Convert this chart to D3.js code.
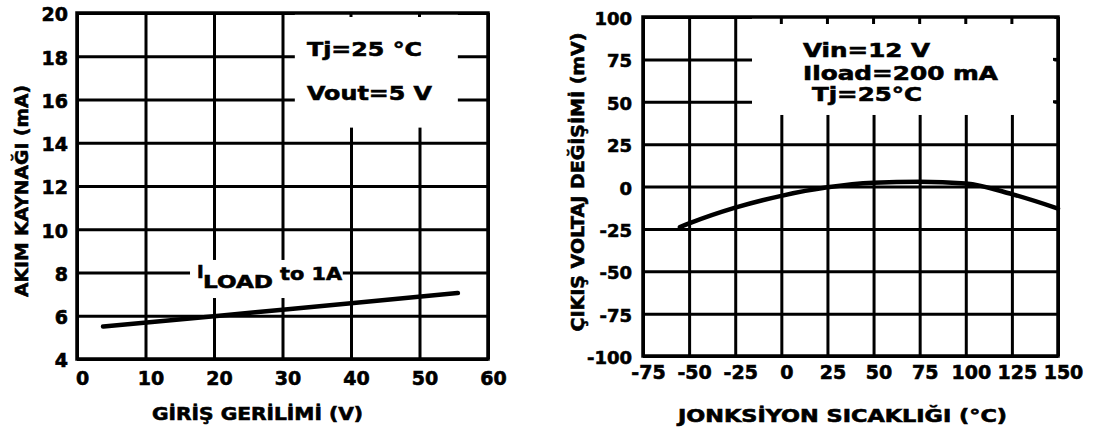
<!DOCTYPE html>
<html>
<head>
<meta charset="utf-8">
<script src="https://cdn.jsdelivr.net/npm/d3@7"></script>
<style>
  body { margin: 0; background: #fff; }
  text { font-family: "DejaVu Sans", sans-serif; font-weight: bold; fill: #000; stroke: #000; stroke-width: 0.6px; }
  .grid line { stroke: #000; stroke-width: 3; }
  .grid path, .labels path { display: none; }
</style>
</head>
<body>
<script>
// left panel: supply current vs input voltage
var inputVoltage = [3.8, 20, 30, 40, 55.6];
var supplyCurrent = [5.5, 5.98, 6.28, 6.58, 7.05];
var leftXTicks = [0, 10, 20, 30, 40, 50, 60];
var leftYTicks = [4, 6, 8, 10, 12, 14, 16, 18, 20];

// right panel: output voltage change vs junction temperature
var junctionTemp = [-55, -50, -25, 0, 25, 50, 75, 100, 125, 150];
var outputDelta = [-24, -21.8, -12.5, -5.5, -0.5, 2.2, 2.8, 1.8, -4.5, -13];
var rightXTicks = [-75, -50, -25, 0, 25, 50, 75, 100, 125, 150];
var rightYTicks = [-100, -75, -50, -25, 0, 25, 50, 75, 100];

var svg = d3.select("body").append("svg")
    .attr("width", 1096)
    .attr("height", 432);

// plain hyphen for negatives, like the original sheet
var fmt = function (d) { return String(d); };

function panel(o) {
    var g = svg.append("g");
    var x = d3.scaleLinear().domain(o.xDomain).range([o.left, o.right]);
    var y = d3.scaleLinear().domain(o.yDomain).range([o.bottom, o.top]);
    var h = o.bottom - o.top, w = o.right - o.left;

    // grid lines
    g.append("g").attr("class", "grid")
        .attr("transform", "translate(0," + o.bottom + ")")
        .call(d3.axisBottom(x).tickValues(o.xTicks).tickSize(-h).tickFormat(""));
    g.append("g").attr("class", "grid")
        .attr("transform", "translate(" + o.left + ",0)")
        .call(d3.axisLeft(y).tickValues(o.yTicks).tickSize(-w).tickFormat(""));

    // white areas behind the notes (data units)
    o.masks.forEach(function (m) {
        g.append("rect")
            .attr("x", x(m[0])).attr("y", y(m[3]))
            .attr("width", x(m[1]) - x(m[0]))
            .attr("height", y(m[2]) - y(m[3]))
            .attr("fill", "#fff");
    });

    // little ticks left inside the note box
    o.topTicks.forEach(function (t) {
        g.append("line")
            .attr("x1", x(t)).attr("x2", x(t))
            .attr("y1", o.top).attr("y2", o.top + o.tickLen)
            .attr("stroke", "#000").attr("stroke-width", 3);
    });
    o.rightTicks.forEach(function (t) {
        g.append("line")
            .attr("x1", o.right - 5).attr("x2", o.right)
            .attr("y1", y(t)).attr("y2", y(t))
            .attr("stroke", "#000").attr("stroke-width", 3);
    });

    // frame
    g.append("rect")
        .attr("x", o.left).attr("y", o.top)
        .attr("width", w).attr("height", h)
        .attr("fill", "none").attr("stroke", "#000").attr("stroke-width", 3.5);

    // curve
    var line = d3.line()
        .x(function (d) { return x(d[0]); })
        .y(function (d) { return y(d[1]); })
        .curve(d3.curveMonotoneX);
    g.append("path")
        .datum(d3.zip(o.xs, o.ys))
        .attr("d", line)
        .attr("fill", "none")
        .attr("stroke", "#000")
        .attr("stroke-width", 4.5)
        .attr("stroke-linecap", "round");

    // tick labels
    var xl = g.append("g").attr("class", "labels")
        .attr("transform", "translate(0," + o.bottom + ")")
        .call(d3.axisBottom(x).tickValues(o.xTicks).tickSize(0).tickPadding(o.xPad).tickFormat(fmt));
    xl.selectAll("text").style("font-size", o.xFont + "px").attr("dx", 5);
    var yl = g.append("g").attr("class", "labels")
        .attr("transform", "translate(" + o.left + ",0)")
        .call(d3.axisLeft(y).tickValues(o.yTicks).tickSize(0).tickPadding(o.yPad).tickFormat(fmt));
    yl.selectAll("text").style("font-size", o.yFont + "px").attr("dy", "0.42em");

    // axis titles
    g.append("text")
        .attr("x", o.xTitle[1]).attr("y", o.xTitle[2])
        .attr("textLength", o.xTitle[3]).attr("lengthAdjust", "spacingAndGlyphs")
        .style("font-size", "17px")
        .text(o.xTitle[0]);
    g.append("text")
        .attr("transform", "translate(" + o.yTitle[1] + "," + o.yTitle[2] + ") rotate(-90)")
        .attr("text-anchor", "middle")
        .attr("textLength", o.yTitle[3]).attr("lengthAdjust", "spacingAndGlyphs")
        .style("font-size", "18px")
        .text(o.yTitle[0]);

    // notes
    o.notes.forEach(function (n) {
        var t = g.append("text")
            .attr("x", n[1]).attr("y", n[2])
            .style("font-size", n[4] + "px")
            .text(n[0]);
        if (n[3]) t.attr("textLength", n[3]).attr("lengthAdjust", "spacingAndGlyphs");
    });
}

panel({
    left: 77, right: 488, top: 13, bottom: 359,
    xDomain: [0, 60], yDomain: [4, 20],
    xTicks: leftXTicks, yTicks: leftYTicks,
    xs: inputVoltage, ys: supplyCurrent,
    masks: [[31.8, 55.6, 14.7, 20], [16.5, 38.8, 6.82, 8.58]],
    topTicks: [40, 50], tickLen: 4, rightTicks: [],
    xPad: 13, xFont: 19, yPad: 9, yFont: 19,
    xTitle: ["GİRİŞ GERİLİMİ (V)", 152, 420, 211],
    yTitle: ["AKIM KAYNAĞI (mA)", 28, 191, 212],
    notes: [
        ["Tj=25 °C", 307, 56, 115, 20],
        ["Vout=5 V", 307, 100, 125, 20],
        ["I", 197, 278, 0, 18],
        ["LOAD", 203, 288, 70, 18],
        ["to 1A", 280, 280, 62, 18]
    ]
});

panel({
    left: 643, right: 1058, top: 17, bottom: 356,
    xDomain: [-75, 150], yDomain: [-100, 100],
    xTicks: rightXTicks, yTicks: rightYTicks,
    xs: junctionTemp, ys: outputDelta,
    masks: [[-15.9, 148, 42.2, 100]],
    topTicks: [0, 25, 50, 75, 100, 125], tickLen: 7, rightTicks: [75, 50],
    xPad: 10, xFont: 19, yPad: 11, yFont: 18,
    xTitle: ["JONKSİYON SICAKLIĞI (°C)", 678, 422, 329],
    yTitle: ["ÇIKIŞ VOLTAJ DEĞİŞİMİ (mV)", 584, 182, 299],
    notes: [
        ["Vin=12 V", 803, 57, 127, 19],
        ["Iload=200 mA", 803, 80, 195, 19],
        ["Tj=25°C", 812, 101, 110, 19]
    ]
});
</script>
</body>
</html>
